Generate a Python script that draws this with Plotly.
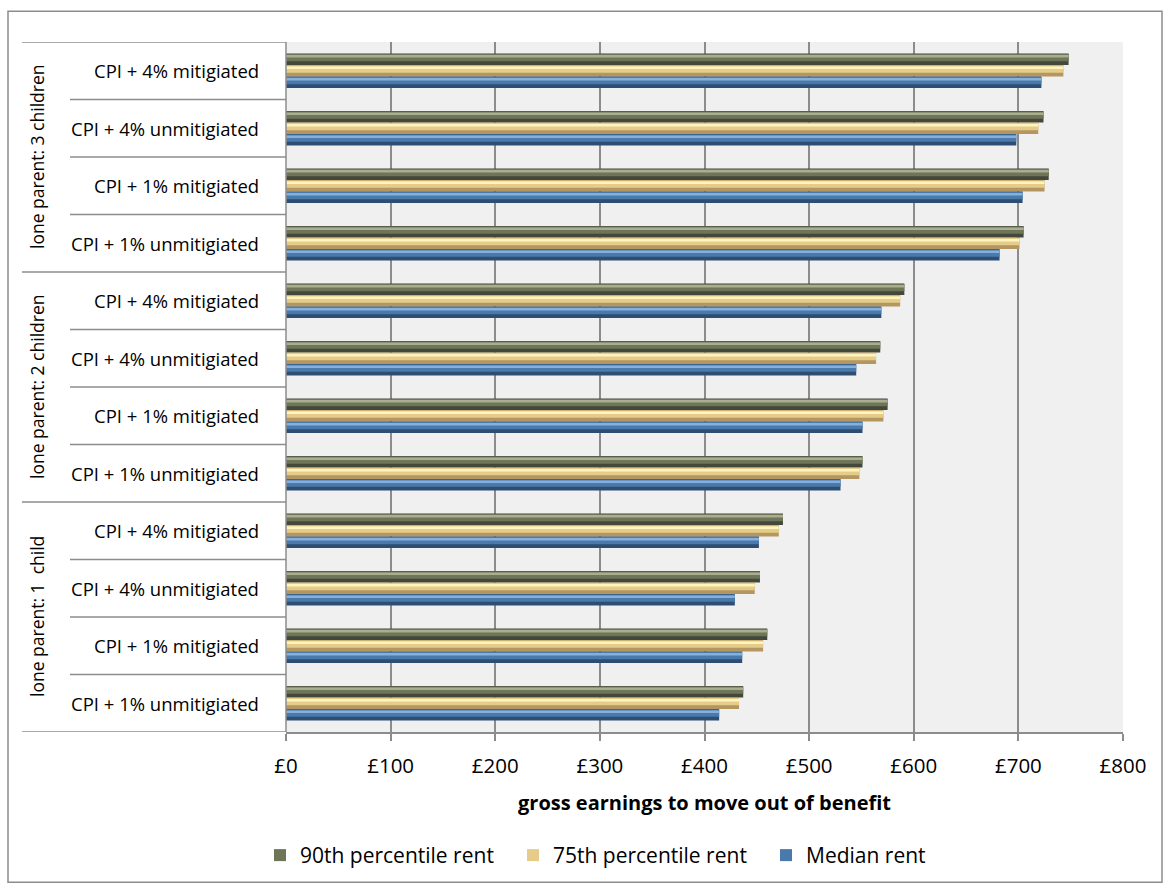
import plotly.graph_objects as go

# ---- data ----
groups = ["lone parent: 3 children", "lone parent: 2 children", "lone parent: 1  child"]
scenarios = ["CPI + 4% mitigiated", "CPI + 4% unmitigiated", "CPI + 1% mitigiated", "CPI + 1% unmitigiated"]
series_names = ["90th percentile rent", "75th percentile rent", "Median rent"]

# rows listed top to bottom (3 children first)
p90 = [748, 724, 729, 705, 591, 568, 575, 551, 475, 453, 460, 437]
p75 = [743, 719, 725, 701, 587, 564, 571, 548, 471, 448, 456, 433]
median = [722, 698, 704, 682, 569, 545, 551, 530, 452, 429, 436, 414]

x_ticks = [0, 100, 200, 300, 400, 500, 600, 700, 800]
x_ticktext = ["£" + str(v) for v in x_ticks]
x_title = "gross earnings to move out of benefit"

# ---- layout geometry ----
W, H = 1164, 888
ML, MR, MT, MB = 286, 41, 42, 153
PW, PH = W - ML - MR, H - MT - MB
FONT = "Open Sans"

def px_x(px):
    return (px - ML) / PW

def px_y(py):
    return (H - MB - py) / PH

rows = list(range(len(p90)))

# colours: (dark base, mid, highlight)
styles = {
    "90th percentile rent": ("#43483A", "#6E7558", "#A9AE90"),
    "75th percentile rent": ("#B39660", "#E6CC8A", "#FFF4BC"),
    "Median rent": ("#2D4E72", "#4A7AAC", "#85B0DC"),
}
offsets = {"90th percentile rent": -0.30, "75th percentile rent": -0.10, "Median rent": 0.10}
values = {"90th percentile rent": p90, "75th percentile rent": p75, "Median rent": median}
BW = 0.20

fig = go.Figure()
for rank, name in enumerate(series_names):
    dark, mid, light = styles[name]
    off = offsets[name]
    vals = values[name]
    fig.add_trace(go.Bar(x=vals, y=rows, orientation="h", width=BW, offset=off,
                         marker=dict(color=dark, line=dict(width=0)),
                         showlegend=False, hoverinfo="skip"))
    fig.add_trace(go.Bar(x=vals, y=rows, orientation="h", width=BW * 0.62, offset=off + BW * 0.05,
                         marker=dict(color=mid, line=dict(width=0)),
                         name=name, legendrank=rank + 1, showlegend=True))
    fig.add_trace(go.Bar(x=vals, y=rows, orientation="h", width=BW * 0.22, offset=off + BW * 0.12,
                         marker=dict(color=light, line=dict(width=0)),
                         showlegend=False, hoverinfo="skip"))

shapes = []
# outer chart border
shapes.append(dict(type="rect", xref="paper", yref="paper",
                   x0=px_x(8), x1=px_x(1162), y0=px_y(886), y1=px_y(11),
                   line=dict(color="#8C8C8C", width=1.5), fillcolor="rgba(0,0,0,0)", layer="below"))
# left axis line
shapes.append(dict(type="line", xref="paper", yref="paper", x0=0, x1=0, y0=0, y1=1,
                   line=dict(color="#8C8C8C", width=1.5)))
# row separator lines
n = len(rows)
for b in range(n + 1):
    yv = b - 0.5
    x_start = px_x(22) if b % 4 == 0 else px_x(70)
    shapes.append(dict(type="line", xref="paper", yref="y", x0=x_start, x1=0, y0=yv, y1=yv,
                       line=dict(color="#8C8C8C", width=1.5)))

annotations = []
for i in rows:
    annotations.append(dict(xref="paper", yref="y", x=px_x(261), y=i, text=scenarios[i % 4],
                            showarrow=False, xanchor="right", yanchor="middle",
                            font=dict(family=FONT, size=18.5, color="#000000")))
for g, gname in enumerate(groups):
    annotations.append(dict(xref="paper", yref="y", x=px_x(37), y=g * 4 + 1.5, text=gname,
                            showarrow=False, textangle=-90, xanchor="center", yanchor="middle",
                            font=dict(family=FONT, size=17.5, color="#000000")))
annotations.append(dict(xref="paper", yref="paper", x=px_x(704), y=px_y(806), text="<b>" + x_title + "</b>",
                        showarrow=False, xanchor="center", yanchor="middle",
                        font=dict(family=FONT, size=20, color="#000000")))

fig.update_layout(
    width=W, height=H,
    margin=dict(l=ML, r=MR, t=MT, b=MB),
    paper_bgcolor="#FFFFFF",
    plot_bgcolor="#F0F0F0",
    barmode="overlay",
    font=dict(family=FONT, size=18, color="#000000"),
    shapes=shapes,
    annotations=annotations,
    legend=dict(orientation="h", x=px_x(260), y=px_y(859), xanchor="left", yanchor="middle",
                entrywidth=208, entrywidthmode="pixels", traceorder="normal",
                font=dict(family=FONT, size=21, color="#000000"), itemwidth=30),
    xaxis=dict(range=[0, 800], tickvals=x_ticks, ticktext=x_ticktext,
               showgrid=True, gridcolor="#8C8C8C", gridwidth=1.5,
               showline=True, linecolor="#8C8C8C", linewidth=1.5,
               ticks="outside", ticklen=7, tickcolor="#8C8C8C", tickwidth=1.5,
               ticklabelstandoff=8,
               zeroline=False, fixedrange=True,
               tickfont=dict(family=FONT, size=20.5, color="#000000")),
    yaxis=dict(range=[n - 0.5, -0.5], showticklabels=False, showgrid=False, zeroline=False,
               showline=False, ticks="", fixedrange=True),
)

fig.write_html("out.html")
